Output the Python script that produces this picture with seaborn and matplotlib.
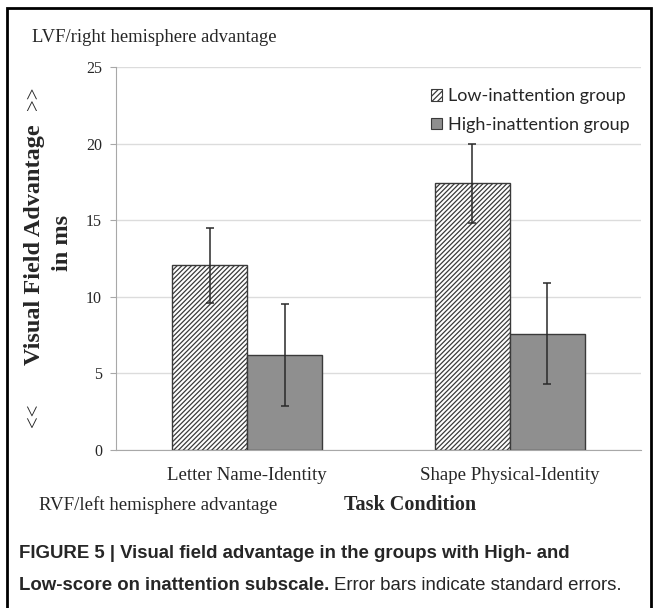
import numpy as np
import pandas as pd
import seaborn as sns
import matplotlib.pyplot as plt
from matplotlib.patches import Patch, Rectangle

# data
conditions = ["Letter Name-Identity", "Shape Physical-Identity"]
groups = ["Low-inattention group", "High-inattention group"]
low_vals = [12.05, 17.4]
high_vals = [6.2, 7.6]
low_err = [2.45, 2.6]
high_err = [3.3, 3.3]
y_ticks = [0, 5, 10, 15, 20, 25]

df = pd.DataFrame({
    "condition": conditions * 2,
    "group": [groups[0]] * 2 + [groups[1]] * 2,
    "value": low_vals + high_vals,
})

sns.set_style("white")
plt.rcParams["hatch.color"] = "#5a5a5a"
plt.rcParams["hatch.linewidth"] = 0.9

W, H = 657, 608
fig = plt.figure(figsize=(W / 100, H / 100), dpi=100)


def px(x, y):
    return x / W, 1 - y / H


ax = fig.add_axes([116 / W, 1 - 450 / H, 525 / W, 383 / H])

sns.barplot(data=df, x="condition", y="value", hue="group", hue_order=groups,
            palette=["white", "#8f8f8f"], width=0.57, errorbar=None,
            edgecolor="#3a3a3a", linewidth=1.0, saturation=1, legend=False, ax=ax)

for bar in ax.containers[0]:
    bar.set_hatch("///////")

for cont, errs in zip(ax.containers, [low_err, high_err]):
    xs = [b.get_x() + b.get_width() / 2 for b in cont]
    ys = [b.get_height() for b in cont]
    ax.errorbar(xs, ys, yerr=errs, fmt="none", ecolor="#2a2a2a",
                elinewidth=1.1, capsize=3, capthick=1.1, zorder=5)

ax.set_xlim(-0.5, 1.5)
ax.set_ylim(0, 25)
ax.set_yticks(y_ticks)
ax.yaxis.grid(True, color="#dcdcdc", linewidth=1)
ax.set_axisbelow(True)
for s in ["top", "right"]:
    ax.spines[s].set_visible(False)
ax.spines["left"].set_color("#a8a8a8")
ax.spines["bottom"].set_color("#a8a8a8")
ax.tick_params(axis="y", length=4, color="#a8a8a8", pad=6, left=True)
ax.tick_params(axis="x", length=0, pad=12)
ax.set_xlabel("")
ax.set_ylabel("")
for lab in ax.get_yticklabels():
    lab.set_fontfamily("Liberation Serif")
    lab.set_fontsize(11.5)
for lab in ax.get_xticklabels():
    lab.set_fontfamily("Liberation Serif")
    lab.set_fontsize(13.6)

handles = [Patch(facecolor="white", edgecolor="#3a3a3a", hatch="//////", linewidth=0.8),
           Patch(facecolor="#8f8f8f", edgecolor="#3a3a3a", linewidth=0.8)]
fig.legend(handles, groups, loc="upper left", bbox_to_anchor=px(424, 81),
           frameon=False, prop={"family": "Lato", "size": 13},
           handlelength=0.6, handleheight=0.6, handletextpad=0.35,
           labelspacing=0.7, borderaxespad=0)

serif = "Liberation Serif"
fig.text(*px(32, 37), "LVF/right hemisphere advantage", family=serif,
         fontsize=13.4, va="center", ha="left")
fig.text(*px(39, 505), "RVF/left hemisphere advantage", family=serif,
         fontsize=13.6, va="center", ha="left")
fig.text(*px(410, 505), "Task Condition", family=serif, fontsize=14.5,
         fontweight="bold", va="center", ha="center")

fig.text(*px(35, 245), "Visual Field Advantage", family=serif, fontsize=17.5,
         fontweight="bold", rotation=90, va="center", ha="center")
fig.text(*px(63, 243), "in ms", family=serif, fontsize=17.5,
         fontweight="bold", rotation=90, va="center", ha="center")
fig.text(*px(34, 98), ">>", family=serif, fontsize=15,
         rotation=90, va="center", ha="center")
fig.text(*px(34, 415), "<<", family=serif, fontsize=15,
         rotation=90, va="center", ha="center")

# caption
sans = "Liberation Sans"
fig.text(*px(19, 553), "FIGURE 5 | Visual field advantage in the groups with High- and",
         family=sans, fontsize=13.4, fontweight="bold", va="center", ha="left")
t1 = fig.text(*px(19, 586), "Low-score on inattention subscale.", family=sans,
              fontsize=13.4, fontweight="bold", va="center", ha="left")
fig.canvas.draw()
bb = t1.get_window_extent(fig.canvas.get_renderer())
fig.text(bb.x1 / W + 5 / W, 1 - 586 / H, "Error bars indicate standard errors.",
         family=sans, fontsize=13.4, va="center", ha="left")

# outer frame
fig.patches.append(Rectangle(px(7, 640), 644 / W, 632 / H, transform=fig.transFigure,
                             fill=False, edgecolor="black", linewidth=2))

fig.savefig("out.png", dpi=100)
